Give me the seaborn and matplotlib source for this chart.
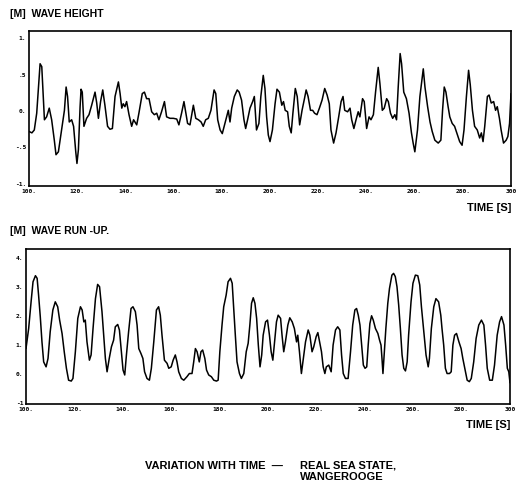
import numpy as np
import pandas as pd
import matplotlib
matplotlib.use("Agg")
import matplotlib.pyplot as plt
import seaborn as sns

# values (time in s, elevation in m)
height_time = [
    100.0, 101.2, 102.2, 103.2, 104.6, 105.3, 106.4, 107.3, 108.4, 109.4,
    110.5, 111.2, 112.2, 113.5, 114.7, 115.4, 116.0, 116.7, 117.7, 118.5,
    119.4, 119.9, 120.5, 121.2, 121.6, 122.1, 122.8, 123.9, 124.9, 126.0,
    127.4, 128.1, 128.8, 129.7, 130.6, 131.5, 132.6, 133.6, 134.6, 135.7,
    137.1, 137.8, 138.5, 139.1, 139.8, 140.5, 141.5, 142.6, 143.4, 144.7,
    145.6, 147.0, 147.9, 148.8, 149.8, 150.9, 152.0, 153.0, 153.9, 155.0,
    156.2, 157.1, 158.5, 159.9, 161.3, 162.2, 163.3, 164.3,
    165.8, 166.8, 168.2, 169.2, 170.3, 171.4, 172.3, 173.3, 174.4, 175.5,
    176.8, 177.5, 178.3, 179.3, 180.2, 181.0, 182.0, 182.7, 183.4, 184.1,
    185.2, 186.4, 187.2, 188.2, 189.2, 189.9, 190.7, 191.7, 192.8, 193.5,
    194.4, 195.4, 196.2, 197.2, 197.9, 198.6, 199.3, 200.0, 201.0, 202.1,
    202.9, 203.9, 204.9, 205.6, 206.3, 207.3, 208.0, 208.8, 209.5, 210.5,
    211.3, 212.3, 213.3, 214.3, 215.0, 215.8, 216.8, 217.7, 218.5, 219.5,
    220.5, 221.6, 222.7, 223.7, 224.6, 225.3, 226.4, 227.4, 228.5, 229.5,
    230.3, 231.0,
    232.2, 233.2, 233.9, 234.8, 235.7, 236.6, 237.3, 238.4, 239.1, 240.1,
    241.1, 241.9, 242.9, 243.8, 244.9, 245.6, 246.6, 247.4, 248.4, 249.1,
    250.0, 250.9, 251.8, 252.5, 253.2, 254.0, 254.6, 255.5, 256.6, 257.7,
    258.7, 259.4, 260.1, 261.2, 262.2, 263.6, 264.3, 265.4, 266.4, 267.3,
    268.4, 269.8, 270.9, 271.6, 272.3, 273.0, 273.9, 274.6, 275.6, 276.6,
    277.8, 278.7, 279.7, 280.5, 281.5, 282.4, 283.1, 284.0, 284.9, 286.0,
    287.0, 287.7, 288.4, 289.1, 290.2, 290.9, 291.8, 292.8, 293.6, 294.3,
    295.2, 295.9, 296.9, 298.0, 298.7, 299.4, 300.0,
]
height_m = [
    -0.28, -0.30, -0.26, -0.03, 0.65, 0.61, -0.12, -0.08, 0.04, -0.12,
    -0.40, -0.60, -0.56, -0.26, 0.01, 0.33, 0.20, -0.15, -0.12, -0.21,
    -0.56, -0.72, -0.53, 0.06, 0.30, 0.26, -0.21, -0.10, -0.05, 0.08,
    0.26, 0.11, -0.10, 0.13, 0.29, 0.08, -0.21, -0.25, -0.24, 0.20,
    0.40, 0.24, 0.04, 0.10, 0.06, 0.13, -0.05, -0.21, -0.12, -0.19,
    -0.03, 0.24, 0.26, 0.17, 0.17, -0.01, -0.05, -0.03, -0.12, -0.01,
    0.13, -0.08, -0.10, -0.10, -0.11, -0.19, -0.03, 0.13,
    -0.17, -0.19, 0.08, -0.10, -0.12, -0.15, -0.21, -0.12, -0.10, 0.01,
    0.29, 0.24, -0.12, -0.26, -0.31, -0.21, -0.08, 0.01, -0.15, 0.04,
    0.20, 0.29, 0.26, 0.15, -0.12, -0.24, -0.12, 0.04, 0.13, 0.20,
    -0.26, -0.17, 0.20, 0.49, 0.31, -0.08, -0.33, -0.42, -0.26, 0.10,
    0.30, 0.26, 0.08, 0.13, 0.01, -0.01, -0.21, -0.30, -0.03, 0.31,
    0.20, -0.19, 0.01, 0.17, 0.29, 0.20, 0.01, 0.01, -0.03, -0.05,
    0.04, 0.15, 0.31, 0.22, 0.10, -0.26, -0.44, -0.30, -0.08, 0.13,
    0.20, 0.01,
    -0.01, 0.04, -0.12, -0.24, -0.12, -0.01, -0.08, 0.17, 0.13, -0.24,
    -0.08, -0.12, -0.05, 0.26, 0.60, 0.38, 0.01, 0.04, 0.17, 0.13,
    -0.03, -0.10, -0.05, -0.12, 0.33, 0.79, 0.65, 0.26, 0.17, -0.03,
    -0.30, -0.44, -0.56, -0.26, 0.20, 0.58, 0.33, 0.06, -0.15, -0.28,
    -0.40, -0.44, -0.40, 0.01, 0.33, 0.26, 0.06, -0.08, -0.17, -0.21,
    -0.33, -0.42, -0.47, -0.26, 0.20, 0.56, 0.36, 0.01, -0.21, -0.26,
    -0.37, -0.30, -0.42, -0.21, 0.20, 0.22, 0.11, 0.13, 0.01, 0.06,
    -0.10, -0.26, -0.44, -0.40, -0.35, -0.17, 0.24,
]

runup_time = [
    100.0, 101.1, 102.1, 102.9, 103.9, 104.6, 105.2, 105.9, 106.6, 107.3,
    108.3, 109.1, 110.0, 111.1, 112.1, 113.1, 113.9, 114.9, 115.8, 116.7,
    117.6, 118.7, 119.4, 120.4, 121.4, 122.5, 123.2, 123.9, 124.5, 125.2,
    126.2, 126.9, 127.7, 128.7, 129.6, 130.4, 131.4, 132.1, 132.8, 133.5,
    134.4, 135.3, 136.2, 136.9, 137.9, 138.6, 139.3, 140.1, 140.8, 141.5,
    142.4, 143.4, 144.2, 145.2, 145.9, 146.6, 147.5, 148.3, 149.0, 150.0,
    151.0, 151.8, 152.8, 153.9, 154.8, 155.5, 156.2, 157.2, 158.3, 159.0,
    160.0, 160.8, 161.7, 162.4, 163.1, 164.2, 165.2,
    166.5, 167.5, 168.6, 169.3, 170.0, 170.7, 171.6, 172.3, 173.0, 173.9,
    174.6, 175.5, 176.6, 177.6, 178.7, 179.4, 180.1, 181.0, 181.7, 182.7,
    183.5, 184.5, 185.2, 185.9, 186.5, 187.2, 188.2, 189.0, 190.0, 191.0,
    191.8, 192.5, 193.2, 193.9, 194.6, 195.3, 196.0, 196.7, 197.4, 198.0,
    199.0, 199.8, 200.6, 201.3, 202.0, 202.7, 203.5, 204.2, 205.2, 205.8,
    206.5, 207.2, 208.2, 209.0, 210.0, 210.9, 211.8, 212.3, 213.0, 213.8,
    214.5, 215.5, 216.6, 217.3, 218.2, 218.9, 219.9, 220.6, 221.2, 222.1,
    222.8, 223.5, 224.1, 225.1, 226.1, 226.9, 227.9, 228.8, 229.7, 230.4,
    231.1, 232.0,
    233.1, 234.1, 235.0, 235.9, 236.6, 237.3, 238.0, 238.7, 239.4, 240.1,
    240.8, 241.4, 242.1, 242.8, 243.5, 244.4, 245.4, 246.1, 246.7, 247.1,
    247.5, 248.0, 248.7, 249.5, 250.2, 251.2, 251.9, 252.6, 253.3, 254.0,
    254.7, 255.4, 256.1, 256.8, 257.5, 258.1, 259.1, 259.9, 260.9, 261.9,
    262.7, 263.4, 264.4, 265.3, 266.2, 266.7, 267.5, 268.5, 269.4, 270.5,
    271.4, 271.9, 272.6, 273.3, 274.0, 275.0, 275.7, 276.4, 277.1, 277.9,
    278.9, 279.8, 280.5, 281.3, 282.3, 283.2, 284.0, 285.0, 286.0, 287.1,
    288.2, 289.2, 289.9, 290.6, 291.6, 292.7, 293.6, 294.7, 295.7, 296.5,
    297.5, 298.2, 298.9, 299.5, 300.0,
]
runup_m = [
    0.88, 1.57, 2.49, 3.18, 3.39, 3.30, 2.72, 1.98, 1.11, 0.42,
    0.25, 0.54, 1.46, 2.21, 2.49, 2.32, 1.86, 1.40, 0.77, 0.20,
    -0.21, -0.24, -0.15, 0.77, 1.92, 2.32, 2.21, 1.80, 1.86, 1.11,
    0.48, 0.66, 1.57, 2.60, 3.09, 3.01, 2.15, 1.34, 0.54, 0.08,
    0.54, 0.94, 1.17, 1.63, 1.71, 1.52, 0.88, 0.14, -0.03, 0.66,
    1.46, 2.26, 2.32, 2.15, 1.69, 0.88, 0.71, 0.54, 0.08, -0.15,
    -0.21, 0.20, 1.11, 2.21, 2.32, 2.03, 1.34, 0.48, 0.37, 0.20,
    0.25, 0.48, 0.66, 0.42, 0.08, -0.15, -0.21,
    -0.09, 0.02, 0.02, 0.42, 0.88, 0.77, 0.42, 0.77, 0.83, 0.54,
    0.14, -0.03, -0.09, -0.21, -0.24, -0.21, 0.77, 1.69, 2.32, 2.72,
    3.18, 3.30, 3.13, 2.15, 1.34, 0.42, 0.02, -0.15, 0.02, 0.77,
    1.06, 1.69, 2.44, 2.63, 2.44, 1.92, 1.00, 0.25, 0.66, 1.34,
    1.80, 1.86, 1.34, 0.77, 0.48, 1.11, 1.80, 2.03, 1.92, 1.34,
    0.77, 1.11, 1.69, 1.94, 1.80, 1.57, 1.11, 1.34, 0.77, 0.02,
    0.48, 1.11, 1.52, 1.34, 0.77, 0.94, 1.29, 1.43, 1.17, 0.77,
    0.25, 0.02, 0.25, 0.31, 0.08, 1.00, 1.52, 1.63, 1.52, 0.66,
    0.02, -0.15,
    -0.15, 0.77, 1.69, 2.21, 2.26, 2.03, 1.69, 1.00, 0.31, 0.20,
    0.25, 1.00, 1.74, 2.01, 1.86, 1.57, 1.40, 1.17, 1.00, 0.54,
    0.02, 0.66, 1.57, 2.44, 2.95, 3.41, 3.47, 3.36, 3.01, 2.38,
    1.57, 0.66, 0.20, 0.11, 0.42, 1.34, 2.49, 3.13, 3.41, 3.39,
    3.07, 2.32, 1.46, 0.66, 0.25, 0.54, 1.57, 2.32, 2.60, 2.49,
    2.03, 1.57, 1.00, 0.20, 0.02, 0.02, 0.08, 1.00, 1.34, 1.40,
    1.11, 0.88, 0.54, 0.20, -0.21, -0.26, -0.15, 0.42, 1.23, 1.69,
    1.86, 1.69, 1.00, 0.20, -0.21, -0.21, 0.31, 1.34, 1.80, 1.98,
    1.69, 1.00, 0.20, 0.08, -0.30,
]

x_ticks = [100, 120, 140, 160, 180, 200, 220, 240, 260, 280, 300]
x_labels = ["100.", "120.", "140.", "160.", "180.", "200.", "220.", "240.", "260.", "280.", "300"]
height_ticks = [1, 0.5, 0, -0.5, -1]
height_labels = ["1.", ".5", "0.", "-.5", "-1."]
runup_ticks = [4, 3, 2, 1, 0, -1]
runup_labels = ["4.", "3.", "2.", "1.", "0.", "-1"]

assert len(height_time) == len(height_m)
assert len(runup_time) == len(runup_m)

sns.set_style("white")
plt.rcParams["font.family"] = ["Liberation Sans", "DejaVu Sans"]
plt.rcParams["text.color"] = "black"

W, H = 519, 483
fig = plt.figure(figsize=(W / 100, H / 100), dpi=100)
ax1 = fig.add_axes([29 / W, 1 - 186 / H, 482 / W, 155 / H])
ax2 = fig.add_axes([26 / W, 1 - 404 / H, 484 / W, 155 / H])

height_df = pd.DataFrame({"time": height_time, "value": height_m})
runup_df = pd.DataFrame({"time": runup_time, "value": runup_m})

panels = [
    (ax1, height_df, (-1.03, 1.10), height_ticks, height_labels),
    (ax2, runup_df, (-1.03, 4.31), runup_ticks, runup_labels),
]
for ax, df, ylim, yt, yl in panels:
    sns.lineplot(data=df, x="time", y="value", ax=ax, color="black",
                 linewidth=1.1, estimator=None)
    ax.set_xlim(100, 300)
    ax.set_ylim(*ylim)
    ax.set_xticks(x_ticks)
    ax.set_xticklabels(x_labels, fontsize=4.5, family="DejaVu Sans Mono", fontweight="bold")
    ax.set_yticks(yt)
    ax.set_yticklabels(yl, fontsize=4.5, family="DejaVu Sans Mono", fontweight="bold")
    ax.tick_params(direction="in", length=2, width=0.8, pad=2, colors="black")
    ax.set_xlabel("")
    ax.set_ylabel("")
    for s in ax.spines.values():
        s.set_color("black")
        s.set_linewidth(1.2)

fig.text(10 / W, 1 - 14 / H, "[M]  WAVE HEIGHT", fontsize=7.5, fontweight="bold",
         ha="left", va="center")
fig.text(10 / W, 1 - 231 / H, "[M]  WAVE RUN -UP.", fontsize=7.5, fontweight="bold",
         ha="left", va="center")
fig.text(511 / W, 1 - 208 / H, "TIME [S]", fontsize=8, fontweight="bold",
         ha="right", va="center")
fig.text(510 / W, 1 - 425 / H, "TIME [S]", fontsize=8, fontweight="bold",
         ha="right", va="center")

fig.text(283 / W, 1 - 466 / H, "VARIATION WITH TIME  \u2014", fontsize=8,
         fontweight="bold", ha="right", va="center")
fig.text(300 / W, 1 - 466 / H, "REAL SEA STATE,", fontsize=8,
         fontweight="bold", ha="left", va="center")
fig.text(300 / W, 1 - 477 / H, "WANGEROOGE", fontsize=8,
         fontweight="bold", ha="left", va="center")

fig.savefig("out.png", dpi=100, facecolor="white")
